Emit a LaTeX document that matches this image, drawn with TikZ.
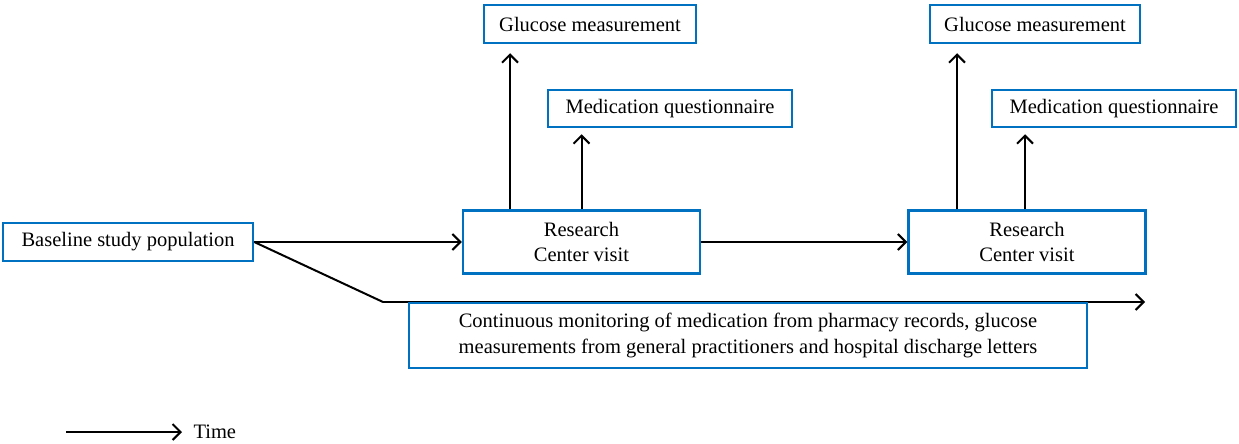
\documentclass[tikz,border=0pt]{standalone}
\usepackage{fontspec}
\setmainfont{Liberation Serif}
\usetikzlibrary{arrows.meta}
\usetikzlibrary{positioning}
\definecolor{boxblue}{RGB}{0,112,192}

\begin{document}
\begin{tikzpicture}[x=1pt, y=-1pt,
  box/.style={draw=boxblue, line width=2.5pt, fill=white, inner sep=0pt, align=center,
    font=\fontsize{20.5}{25.5}\selectfont},
  arr/.style={-{Straight Barb[length=8pt,width=16pt]}, line width=2pt}]
  \useasboundingbox (0,0) rectangle (1239,444);

  \node[box, minimum width=250, minimum height=38] (base) at (128,242) {Baseline study population};
  \node[box, minimum width=237, minimum height=63] (visit1) at (581.5,242) {Research\\Center visit};
  \node[box, minimum width=237, minimum height=63] (visit2) at (1027,242) {Research\\Center visit};
  \node[box, minimum width=212, minimum height=38] (gluc1) at (590,24) {Glucose measurement};
  \node[box, minimum width=244, minimum height=37] (medq1) at (670,108.5) {Medication questionnaire};
  \node[box, minimum width=210, minimum height=38] (gluc2) at (1035,24) {Glucose measurement};
  \node[box, minimum width=244, minimum height=37] (medq2) at (1114,108.5) {Medication questionnaire};

  \coordinate (bend) at (383,302);
  \coordinate (cend) at (1145,302);
  \draw[line width=2pt] (base.east) -- (bend);
  \draw[arr] (bend) -- (cend);
  \node[box, minimum width=678, minimum height=65] (cont) at (748,335.5)
    {Continuous monitoring of medication from pharmacy records, glucose\\
     measurements from general practitioners and hospital discharge letters};

  \draw[arr] (base.east) -- (visit1.west);
  \draw[arr] (visit1.east) -- (visit2.west);
  \draw[arr, shorten >=9pt] ([xshift=-71.5]visit1.north) -- ([xshift=-71.5]visit1.north |- gluc1.south);
  \draw[arr, shorten >=6pt] (visit1.north) -- (visit1.north |- medq1.south);
  \draw[arr, shorten >=9pt] ([xshift=-70]visit2.north) -- ([xshift=-70]visit2.north |- gluc2.south);
  \draw[arr, shorten >=6pt] ([xshift=-2]visit2.north) -- ([xshift=-2]visit2.north |- medq2.south);

  % legend
  \coordinate (tstart) at (66,432);
  \node[anchor=west, font=\fontsize{20.5}{24}\selectfont] (time) at (190,432) {Time};
  \draw[arr] (tstart) -- ([xshift=-8]time.west);
\end{tikzpicture}
\end{document}
